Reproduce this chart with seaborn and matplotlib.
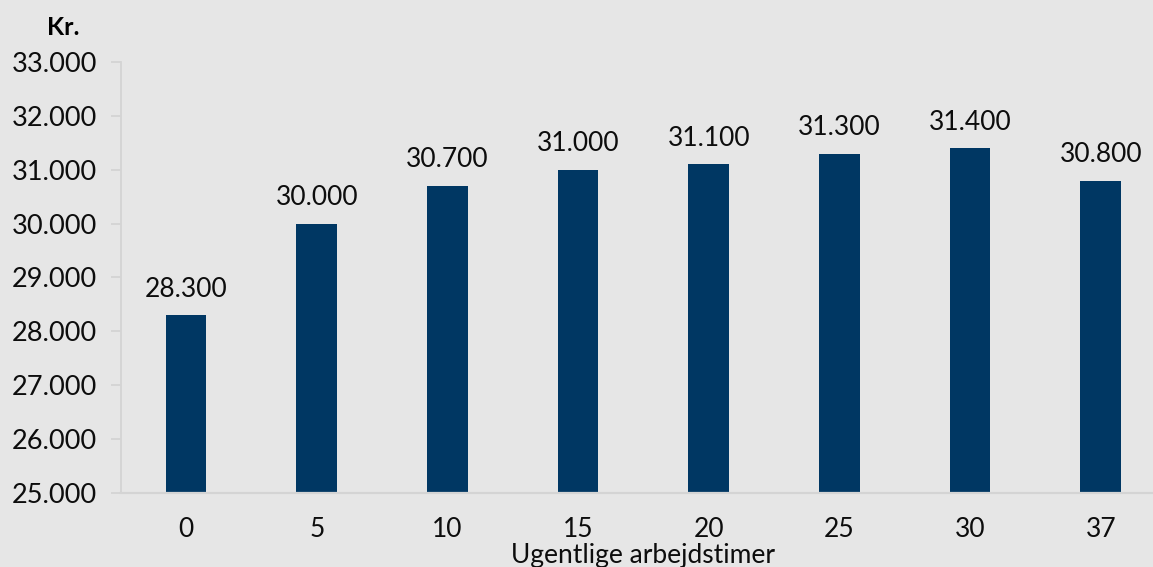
import matplotlib
matplotlib.use("Agg")
import matplotlib.pyplot as plt
import matplotlib.ticker as mticker
import pandas as pd
import seaborn as sns

hours = ["0", "5", "10", "15", "20", "25", "30", "37"]
wage = [28300, 30000, 30700, 31000, 31100, 31300, 31400, 30800]

df = pd.DataFrame({"timer": hours, "kr": wage})

sns.set_theme(style="white")
plt.rcParams["font.family"] = ["Lato", "DejaVu Sans"]

bg = "#e6e6e6"
bar_color = "#003763"
axis_color = "#d4d4d4"

fig = plt.figure(figsize=(11.53, 5.67), dpi=100, facecolor=bg)
ax = fig.add_axes([0.1047, 0.1305, 0.9066, 0.7602])
ax.set_facecolor(bg)

sns.barplot(data=df, x="timer", y="kr", color=bar_color, width=0.31,
            saturation=1, linewidth=0, ax=ax)

ax.set_ylim(25000, 33000)
ax.set_yticks(range(25000, 33001, 1000))
ax.yaxis.set_major_formatter(
    mticker.FuncFormatter(lambda v, p: f"{int(v):,}".replace(",", ".")))

# value labels over the bars
for i, v in enumerate(wage):
    ax.text(i, v + 250, f"{v:,}".replace(",", "."), ha="center", va="bottom",
            fontsize=19, color="#0d0d0d")

for s in ["top", "right"]:
    ax.spines[s].set_visible(False)
ax.spines["left"].set_color(axis_color)
ax.spines["bottom"].set_color(axis_color)
ax.spines["left"].set_linewidth(1.3)
ax.spines["bottom"].set_linewidth(1.6)

ax.tick_params(axis="y", left=True, length=7, width=1.3, color=axis_color,
               labelsize=19.5, labelcolor="#0d0d0d", pad=10)
ax.tick_params(axis="x", bottom=False, labelsize=19, labelcolor="#0d0d0d",
               pad=11)

ax.set_xlabel("Ugentlige arbejdstimer", fontsize=19, color="#0d0d0d",
              labelpad=1)
ax.set_ylabel("")
fig.text(0.041, 0.951, "Kr.", fontsize=18, fontweight="bold",
         color="#000000", va="center")

fig.savefig("out.png", dpi=100, facecolor=bg)
